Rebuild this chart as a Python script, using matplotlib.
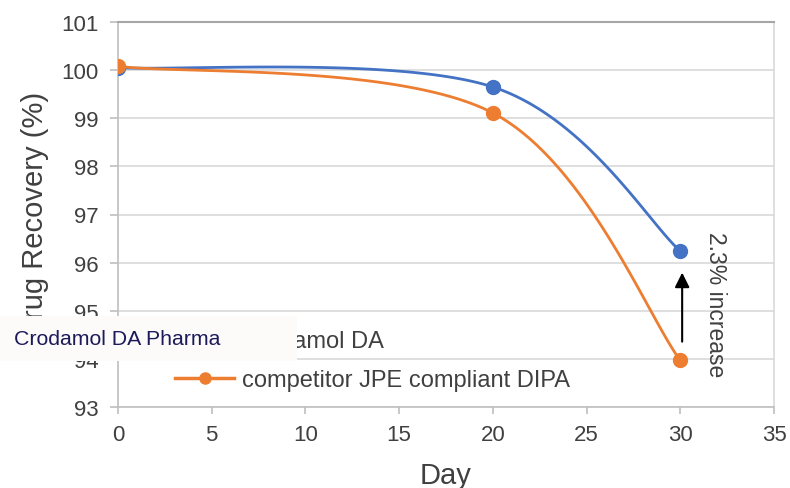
import numpy as np
import matplotlib
matplotlib.use("Agg")
import matplotlib.pyplot as plt
from matplotlib.patches import Rectangle

plt.rcParams['font.family'] = ['Liberation Sans', 'DejaVu Sans']

days = [0, 20, 30]
crodamol = [100.05, 99.65, 96.24]
competitor = [100.08, 99.11, 93.97]
series_names = ["Crodamol DA", "competitor JPE compliant DIPA"]
colors = ["#4472C4", "#ED7D31"]
xticks = [0, 5, 10, 15, 20, 25, 30, 35]
yticks = [93, 94, 95, 96, 97, 98, 99, 100, 101]
annotation = "2.3% increase"
overlay_text = "Crodamol DA Pharma"

fig = plt.figure(figsize=(7.9, 4.89), dpi=100)
ax = fig.add_axes([118/790, 1-408/489, 656/790, 385/489])
ax.set_xlim(0, 35)
ax.set_ylim(93, 101)


def smooth(xs, ys, ax, n=60):
    # Excel-like smoothing (Catmull-Rom Bezier) computed in display space
    T = ax.transData
    P = T.transform(np.column_stack([xs, ys]))
    pts = []
    m = len(P)
    for i in range(m - 1):
        p0 = P[i - 1] if i > 0 else P[i]
        p1 = P[i]
        p2 = P[i + 1]
        p3 = P[i + 2] if i + 2 < m else P[i + 1]
        c1 = p1 + (p2 - p0) / 6.0
        c2 = p2 - (p3 - p1) / 6.0
        t = np.linspace(0, 1, n)[:, None]
        seg = ((1-t)**3)*p1 + 3*((1-t)**2)*t*c1 + 3*(1-t)*(t**2)*c2 + (t**3)*p2
        pts.append(seg if i == 0 else seg[1:])
    pts = np.vstack(pts)
    D = T.inverted().transform(pts)
    return D[:, 0], D[:, 1]


fig.canvas.draw()
for ys, c, name in zip([crodamol, competitor], colors, series_names):
    sx, sy = smooth(days, ys, ax)
    ax.plot(sx, sy, color=c, lw=2.0, zorder=3)
    ax.plot(days, ys, 'o', color=c, ms=10, zorder=4)
    ax.plot([], [], '-o', color=c, lw=2.5, ms=8, label=name)

ax.set_xticks(xticks)
ax.set_yticks(yticks)
ax.grid(axis='y', color='#d9d9d9', lw=1.2, zorder=0)
for s in ['left', 'bottom']:
    ax.spines[s].set_color('#bfbfbf')
    ax.spines[s].set_linewidth(1.2)
ax.spines['right'].set_color('#d9d9d9')
ax.spines['right'].set_linewidth(1.2)
ax.spines['top'].set_color('#a6a6a6')
ax.spines['top'].set_linewidth(1.5)
ax.tick_params(axis='x', length=5, width=1.2, color='#bfbfbf', pad=7,
               labelsize=16, labelcolor='#404040')
ax.tick_params(axis='y', length=6, width=1.2, color='#bfbfbf', pad=8,
               labelsize=16, labelcolor='#404040')

ax.set_xlabel("Day", fontsize=21, color='#404040')
ax.xaxis.set_label_coords(0.5, -0.14)
ax.set_ylabel("Drug Recovery (%)", fontsize=21, color='#404040')
ax.yaxis.set_label_coords(-0.105, 0.5)

ax.annotate("", xy=(30.1, 95.85), xytext=(30.1, 94.3),
            arrowprops=dict(arrowstyle='-|>', color='black', lw=1.5,
                            mutation_scale=22), zorder=5)
ax.text(31.9, 95.15, annotation, rotation=270, fontsize=16.5, color='#404040',
        ha='center', va='center')

leg = ax.legend(loc='lower left', bbox_to_anchor=(175/790, 1-392/489),
                bbox_transform=fig.transFigure, frameon=False, fontsize=17,
                borderpad=0, borderaxespad=0, handlelength=2.5,
                handletextpad=0.35, labelspacing=0.7)
for t in leg.get_texts():
    t.set_color('#404040')

fig.patches.append(Rectangle((0, 1-362/489), 297/790, 45/489,
                             transform=fig.transFigure, facecolor='#fcfbf9',
                             edgecolor='none', zorder=10))
fig.text(14/790, 1-340/489, overlay_text, fontsize=15.3, color='#1c1a5a',
         ha='left', va='center', zorder=11)

fig.savefig("out.png", dpi=100)
